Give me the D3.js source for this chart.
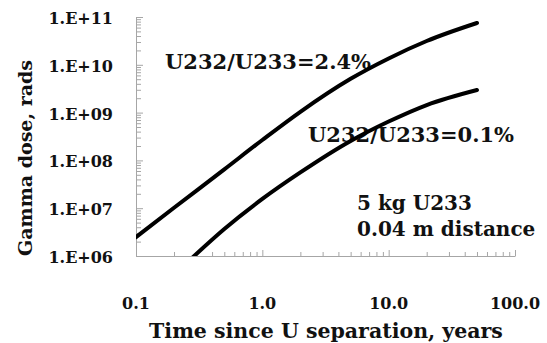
<!DOCTYPE html>
<html>
<head>
<meta charset="utf-8">
<script src="https://cdn.jsdelivr.net/npm/d3@7"></script>
<style>
  html, body { margin: 0; padding: 0; background: #fff; }
  svg { display: block; }
  text { font-family: "DejaVu Serif", "Liberation Serif", serif; font-weight: bold; fill: #111; }
</style>
</head>
<body>
<div id="chart"></div>
<script>
// ---- data ----
const xTickValues = [0.1, 1, 10, 100];
const xTickLabels = ["0.1", "1.0", "10.0", "100.0"];
const yTickValues = [1e6, 1e7, 1e8, 1e9, 1e10, 1e11];
const yTickLabels = ["1.E+06", "1.E+07", "1.E+08", "1.E+09", "1.E+10", "1.E+11"];

const years = [0.1, 0.2, 0.5, 1, 2, 5, 10, 20, 50];
const dose24 = [2.49e6, 1.02e7, 6.5e7, 2.67e8, 1.04e9, 5.1e9, 1.36e10, 3.15e10, 7.5e10];

const years01 = [0.27, 0.5, 1, 2, 5, 10, 20, 50];
const dose01 = [8.5e5, 3.67e6, 1.56e7, 5.6e7, 2.55e8, 6.5e8, 1.44e9, 2.97e9];

const seriesLabels = ["U232/U233=2.4%", "U232/U233=0.1%"];
const noteLines = ["5 kg U233", "0.04 m distance"];
const xTitle = "Time since U separation, years";
const yTitle = "Gamma dose, rads";

// ---- layout ----
const W = 547, H = 343;
const mLeft = 136, mRight = 515, mTop = 17, mBottom = 256;

const svg = d3.select("#chart").append("svg").attr("width", W).attr("height", H);

const x = d3.scaleLog().domain([0.1, 100]).range([mLeft, mRight]);
const y = d3.scaleLog().domain([1e6, 1e11]).range([mBottom, mTop]);

const axisColor = "#a6a6a6";

// minor tick values
const xMinor = [];
for (let d = 0.1; d < 100; d *= 10) for (let k = 2; k <= 9; k++) xMinor.push(+(d * k).toPrecision(3));
const yMinor = [];
for (let d = 1e6; d < 1e11; d *= 10) for (let k = 2; k <= 9; k++) yMinor.push(d * k);

// X axis (ticks point inward / upward)
svg.append("g").attr("class", "ax").attr("transform", `translate(0,${mBottom})`)
  .call(d3.axisTop(x).tickValues(xMinor).tickSize(4).tickFormat(""))
  .call(g => g.select(".domain").remove());
svg.append("g").attr("class", "ax").attr("transform", `translate(0,${mBottom})`)
  .call(d3.axisTop(x).tickValues(xTickValues).tickSize(6).tickSizeOuter(0).tickFormat(""));

// Y axis (ticks inward / to the right)
svg.append("g").attr("class", "ax").attr("transform", `translate(${mLeft},0)`)
  .call(d3.axisRight(y).tickValues(yMinor).tickSize(5).tickFormat(""))
  .call(g => g.select(".domain").remove());
svg.append("g").attr("class", "ax").attr("transform", `translate(${mLeft},0)`)
  .call(d3.axisRight(y).tickValues(yTickValues).tickSize(7).tickSizeOuter(0).tickFormat(""));

svg.selectAll("g.ax line, g.ax path.domain").attr("stroke", axisColor).attr("stroke-width", 1);

// tick labels
svg.append("g").selectAll("text").data(xTickValues).join("text")
  .attr("x", d => x(d)).attr("y", 309)
  .attr("text-anchor", "middle").attr("font-size", 16)
  .text((d, i) => xTickLabels[i]);

svg.append("g").selectAll("text").data(yTickValues).join("text")
  .attr("x", 113).attr("y", d => y(d) + 7)
  .attr("text-anchor", "end").attr("font-size", 16)
  .text((d, i) => yTickLabels[i]);

// axis titles
svg.append("text").attr("x", 326).attr("y", 338)
  .attr("text-anchor", "middle").attr("font-size", 20.5).text(xTitle);
svg.append("text").attr("transform", "translate(32,158) rotate(-90)")
  .attr("text-anchor", "middle").attr("font-size", 19).text(yTitle);

// annotations
svg.append("text").attr("x", 165).attr("y", 69).attr("font-size", 21).text(seriesLabels[0]);
svg.append("text").attr("x", 308).attr("y", 142).attr("font-size", 21).text(seriesLabels[1]);
svg.append("text").attr("x", 357).attr("y", 210).attr("font-size", 20).text(noteLines[0]);
svg.append("text").attr("x", 357).attr("y", 236).attr("font-size", 20).text(noteLines[1]);

// curves
svg.append("clipPath").attr("id", "plotclip").append("rect")
  .attr("x", mLeft).attr("y", mTop - 10).attr("width", mRight - mLeft + 10).attr("height", mBottom - mTop + 10);

const line = d3.line().x(d => x(d[0])).y(d => y(d[1])).curve(d3.curveMonotoneX);
const plot = svg.append("g").attr("clip-path", "url(#plotclip)");
plot.append("path").datum(years.map((t, i) => [t, dose24[i]]))
  .attr("d", line).attr("fill", "none").attr("stroke", "#000").attr("stroke-width", 4)
  .attr("stroke-linecap", "round");
plot.append("path").datum(years01.map((t, i) => [t, dose01[i]]))
  .attr("d", line).attr("fill", "none").attr("stroke", "#000").attr("stroke-width", 4)
  .attr("stroke-linecap", "round");
</script>
</body>
</html>
